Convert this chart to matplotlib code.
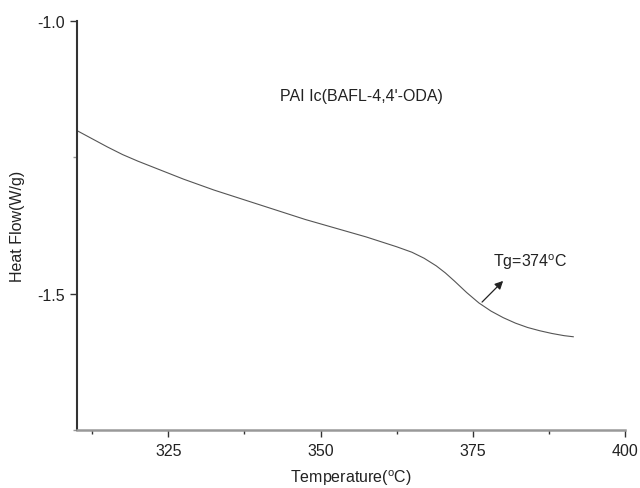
import matplotlib
matplotlib.use("Agg")
import matplotlib.pyplot as plt
from matplotlib.ticker import MultipleLocator, FormatStrFormatter

plt.rcParams['font.family'] = ['Liberation Sans', 'DejaVu Sans']
plt.rcParams['mathtext.default'] = 'regular'

temperature = [310.0, 312.5, 315.0, 317.5, 320.0, 322.5, 325.0, 327.5, 330.0, 332.5,
               335.0, 337.5, 340.0, 342.5, 345.0, 347.5, 350.0, 352.5, 355.0, 357.5,
               360.0, 362.5, 365.0, 367.0, 369.0, 370.5, 372.0, 374.0, 376.0, 378.0,
               380.0, 382.0, 384.0, 386.0, 388.0, 390.0, 391.5]
heat_flow = [-1.201, -1.216, -1.231, -1.245, -1.257, -1.268, -1.279, -1.290, -1.300, -1.310,
             -1.319, -1.328, -1.337, -1.346, -1.355, -1.364, -1.372, -1.380, -1.388, -1.396,
             -1.405, -1.414, -1.424, -1.435, -1.449, -1.462, -1.477, -1.498, -1.517, -1.532,
             -1.544, -1.554, -1.562, -1.568, -1.573, -1.577, -1.579]

sample_label = "PAI Ic(BAFL-4,4'-ODA)"
tg_label = r"Tg=374$^o$C"
arrow_tail = (376.2, -1.519)
arrow_head = (380.3, -1.473)

fig = plt.figure(figsize=(6.4, 4.89), dpi=100)
ax = fig.add_axes([0.1203, 0.1186, 0.8563, 0.8364])

ax.plot(temperature, heat_flow, color='#555555', lw=0.8)

ax.set_xlim(310, 400)
ax.set_ylim(-1.75, -1.0)
ax.xaxis.set_major_locator(MultipleLocator(25))
ax.xaxis.set_minor_locator(MultipleLocator(12.5))
ax.yaxis.set_major_locator(MultipleLocator(0.5))
ax.yaxis.set_minor_locator(MultipleLocator(0.25))
ax.xaxis.set_major_formatter(FormatStrFormatter('%d'))
ax.yaxis.set_major_formatter(FormatStrFormatter('%.1f'))

for s in ['top', 'right']:
    ax.spines[s].set_visible(False)
ax.spines['left'].set_color('#333333')
ax.spines['left'].set_linewidth(1.5)
ax.spines['bottom'].set_color('#999999')
ax.spines['bottom'].set_linewidth(1.8)

ax.tick_params(axis='both', which='major', direction='out', length=5, width=1.0,
               color='#333333', labelsize=11.5, labelcolor='#222222', pad=4)
ax.tick_params(axis='both', which='minor', direction='out', length=3, width=1.0,
               color='#333333')
ax.tick_params(axis='y', which='minor', color='#999999')

ax.set_xlabel(r"Temperature($^o$C)", fontsize=11.5, color='#222222', labelpad=7)
ax.set_ylabel("Heat Flow(W/g)", fontsize=11.5, color='#222222')
ax.yaxis.set_label_coords(-0.095, 0.5)

ax.text(343.3, -1.137, sample_label, fontsize=11.5, color='#222222', ha='left', va='center')
ax.text(378.3, -1.440, tg_label, fontsize=11.5, color='#222222', ha='left', va='center')
ax.annotate('', xy=arrow_head, xytext=arrow_tail,
            arrowprops=dict(arrowstyle='-|>', color='#222222', lw=0.9, mutation_scale=12))

fig.savefig('out.png', dpi=100)
